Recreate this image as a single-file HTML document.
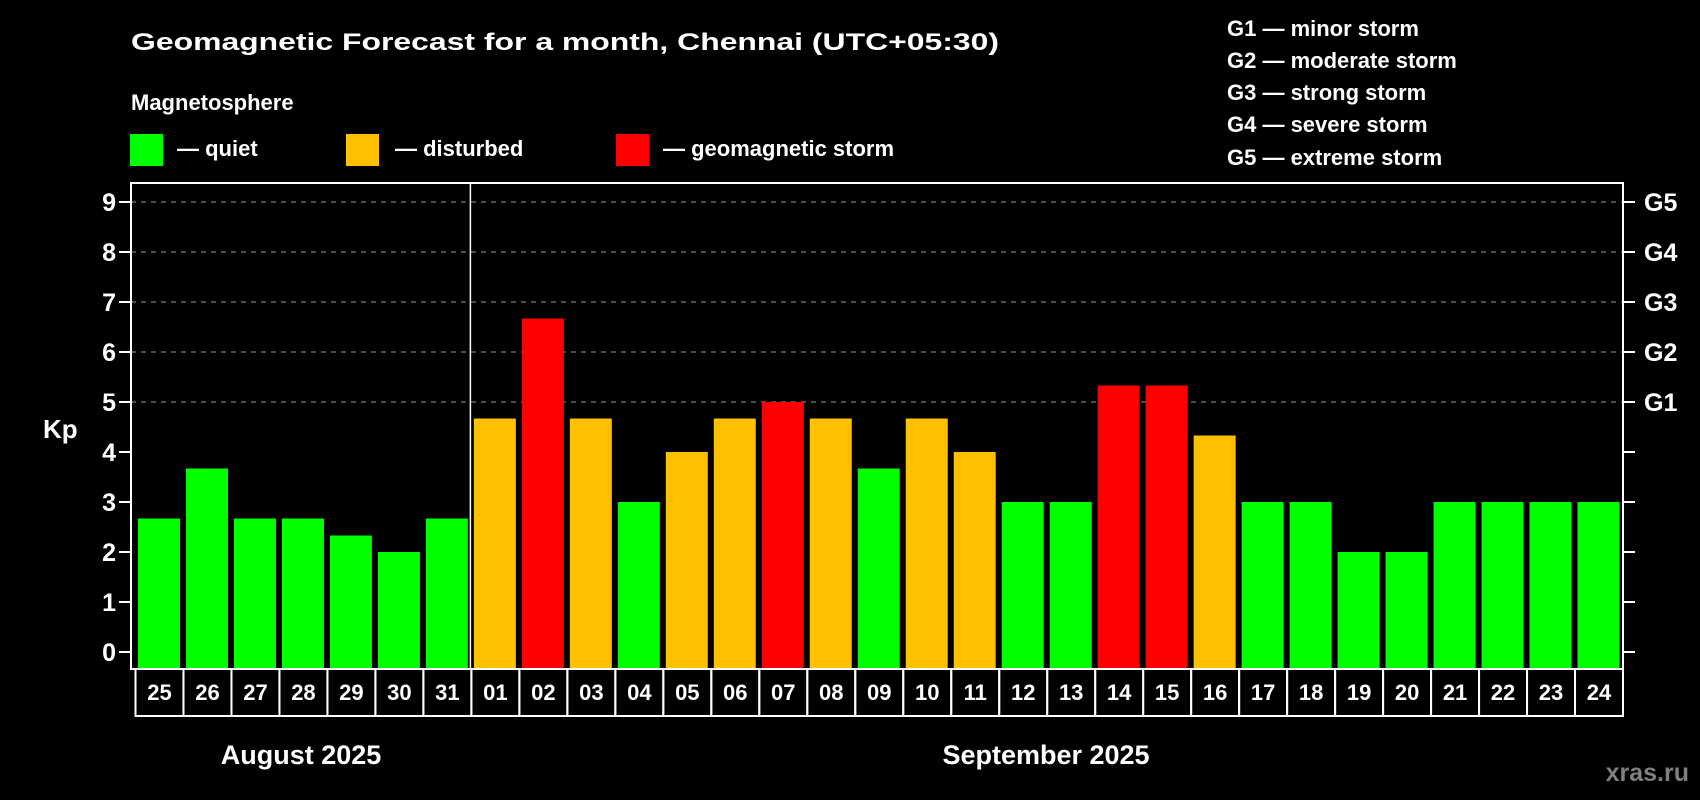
<!DOCTYPE html>
<html><head><meta charset="utf-8"><style>
html,body{margin:0;padding:0;background:#000;width:1700px;height:800px;overflow:hidden}
svg{display:block;font-family:"Liberation Sans",sans-serif;font-weight:bold}
</style></head><body>
<svg id="chart" width="1700" height="800" viewBox="0 0 1700 800" xmlns="http://www.w3.org/2000/svg">
<rect width="1700" height="800" fill="#000"/>
<text x="131" y="50" fill="#fff" font-size="24" textLength="868" lengthAdjust="spacingAndGlyphs">Geomagnetic Forecast for a month, Chennai (UTC+05:30)</text>
<text x="131" y="110" fill="#fff" font-size="22">Magnetosphere</text>
<g><rect x="130" y="134" width="33" height="32" fill="#00ff00"/><text x="177" y="156" fill="#fff" font-size="22">— quiet</text></g>
<g><rect x="346" y="134" width="33" height="32" fill="#ffc000"/><text x="395" y="156" fill="#fff" font-size="22">— disturbed</text></g>
<g><rect x="616" y="134" width="33" height="32" fill="#ff0000"/><text x="663" y="156" fill="#fff" font-size="22">— geomagnetic storm</text></g>
<g fill="#fff" font-size="22">
<text x="1227" y="36">G1 — minor storm</text>
<text x="1227" y="68">G2 — moderate storm</text>
<text x="1227" y="100">G3 — strong storm</text>
<text x="1227" y="132">G4 — severe storm</text>
<text x="1227" y="165">G5 — extreme storm</text>
</g>
<text x="43" y="438" fill="#fff" font-size="26">Kp</text>
<g id="grid"></g>
<g id="bars"></g>
<g id="axes"></g>
<text x="301" y="764" fill="#fff" font-size="27" text-anchor="middle">August 2025</text>
<text x="1046" y="764" fill="#fff" font-size="27" text-anchor="middle">September 2025</text>
<text x="1689" y="781" fill="#808080" font-size="25" text-anchor="end">xras.ru</text>
</svg>
<script>
const days = ["25","26","27","28","29","30","31","01","02","03","04","05","06","07","08","09","10","11","12","13","14","15","16","17","18","19","20","21","22","23","24"];
const kp = [2.67,3.67,2.67,2.67,2.33,2,2.67,4.67,6.67,4.67,3,4,4.67,5,4.67,3.67,4.67,4,3,3,5.33,5.33,4.33,3,3,2,2,3,3,3,3];
const yTicks = [0,1,2,3,4,5,6,7,8,9];
const gLabels = ["G1","G2","G3","G4","G5"];
const gLevels = [5,6,7,8,9];
const monthSplit = 7;

const NS = "http://www.w3.org/2000/svg";
const L = 131, R = 1623, T = 183, B = 669;
const cellL = 135.5, cellW = (R - cellL) / days.length;
const y = v => 652 - 50 * v;
const xCell = i => cellL + i * cellW;
function mk(tag, attrs, parent) {
  const e = document.createElementNS(NS, tag);
  for (const k in attrs) e.setAttribute(k, attrs[k]);
  parent.appendChild(e); return e;
}
const grid = document.getElementById("grid"), bars = document.getElementById("bars"), axes = document.getElementById("axes");
gLevels.forEach((lv, i) => {
  const ln = mk("line", {x1: L, x2: R, y1: y(lv), y2: y(lv), stroke: "#999", "stroke-width": 1, "stroke-dasharray": "5,5"}, grid);
  
  
  const t = mk("text", {x: 1644, y: y(lv) + 9, fill: "#fff", "font-size": 25}, axes);
  t.textContent = gLabels[i];
  
  
});
kp.forEach((v, i) => {
  const c = v >= 5 ? "#ff0000" : (v >= 4 ? "#ffc000" : "#00ff00");
  const r = mk("rect", {x: xCell(i) + 2.5, y: y(v), width: cellW - 6, height: B - 1 - y(v), fill: c}, bars);
  
  
  const cell = mk("rect", {x: xCell(i), y: B, width: cellW, height: 47, fill: "none", stroke: "#fff", "stroke-width": 2}, axes);
  
  
  const t = mk("text", {x: xCell(i) + cellW / 2, y: 700, fill: "#fff", "font-size": 22, "text-anchor": "middle"}, axes);
  t.textContent = days[i];
  
  
});
const frame = mk("rect", {x: L, y: T, width: R - L, height: B - T, fill: "none", stroke: "#fff", "stroke-width": 2}, axes);


const div = mk("line", {x1: xCell(monthSplit) - 1, x2: xCell(monthSplit) - 1, y1: T, y2: B, stroke: "#fff", "stroke-width": 1.5}, axes);


yTicks.forEach(v => {
  const tl = mk("line", {x1: L - 12, x2: L, y1: y(v), y2: y(v), stroke: "#fff", "stroke-width": 2}, axes);
  
  
  const tr = mk("line", {x1: R, x2: R + 12, y1: y(v), y2: y(v), stroke: "#fff", "stroke-width": 2}, axes);
  
  
  const t = mk("text", {x: 116, y: y(v) + 9, fill: "#fff", "font-size": 25, "text-anchor": "end"}, axes);
  t.textContent = v;
  
  
});
</script>
</body></html>
